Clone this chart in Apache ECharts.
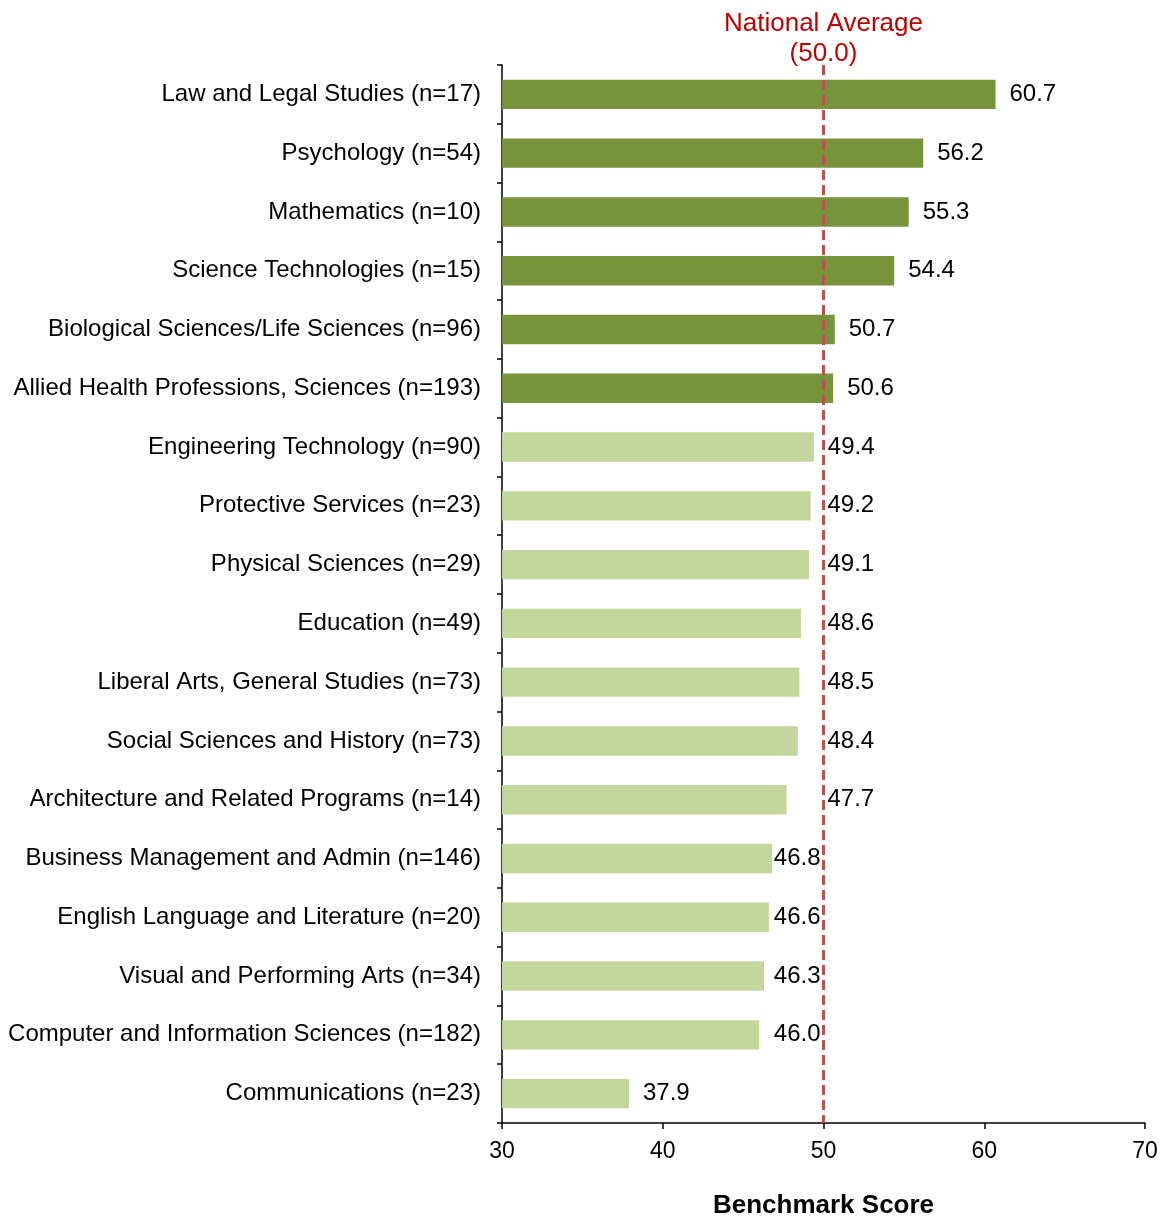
<!DOCTYPE html>
<html>
<head>
<meta charset="utf-8">
<script src="https://cdn.jsdelivr.net/npm/echarts@6/dist/echarts.min.js"></script>
<style>
  html, body { margin: 0; padding: 0; background: #fff; }
  #chart { width: 1166px; height: 1217px; }
</style>
</head>
<body>
<div id="chart"></div>
<script>
// categories, top to bottom
const categories = [
  'Law and Legal Studies (n=17)',
  'Psychology (n=54)',
  'Mathematics (n=10)',
  'Science Technologies (n=15)',
  'Biological Sciences/Life Sciences (n=96)',
  'Allied Health Professions, Sciences (n=193)',
  'Engineering Technology (n=90)',
  'Protective Services (n=23)',
  'Physical Sciences (n=29)',
  'Education (n=49)',
  'Liberal Arts, General Studies (n=73)',
  'Social Sciences and History (n=73)',
  'Architecture and Related Programs (n=14)',
  'Business Management and Admin (n=146)',
  'English Language and Literature (n=20)',
  'Visual and Performing Arts (n=34)',
  'Computer and Information Sciences (n=182)',
  'Communications (n=23)'
];
const scores = [60.7, 56.2, 55.3, 54.4, 50.7, 50.6, 49.4, 49.2, 49.1, 48.6, 48.5, 48.4, 47.7, 46.8, 46.6, 46.3, 46.0, 37.9];
const nationalAverage = 50.0;
const xTicks = [30, 40, 50, 60, 70];

const chart = echarts.init(document.getElementById('chart'));

const font = 'Arial, "Liberation Sans", sans-serif';
const labelFont = 24;
const labelGap = 14;

function buildOption(barData) {
  return {
    animation: false,
    textStyle: { fontFamily: font },
    grid: { left: 502, right: 21, top: 65, bottom: 94, outerBoundsMode: 'none', containLabel: false },
    xAxis: {
      type: 'value',
      min: xTicks[0],
      max: xTicks[xTicks.length - 1],
      interval: 10,
      name: 'Benchmark Score',
      nameLocation: 'middle',
      nameGap: 70,
      nameTextStyle: { fontSize: 26, fontWeight: 'bold', color: '#000', fontFamily: font },
      axisLine: { show: true, lineStyle: { color: '#000', width: 1.5 } },
      axisTick: { show: true, length: 6, lineStyle: { color: '#000', width: 1.5 } },
      axisLabel: { fontSize: 23, color: '#000', margin: 17, fontFamily: font },
      splitLine: { show: false }
    },
    yAxis: {
      type: 'category',
      data: categories,
      inverse: true,
      axisLine: { show: true, lineStyle: { color: '#000', width: 1.5 } },
      axisTick: { show: true, length: 5, alignWithLabel: false, lineStyle: { color: '#000', width: 1.5 } },
      axisLabel: { fontSize: labelFont, color: '#000', margin: 21, fontFamily: font }
    },
    series: [{
      type: 'bar',
      data: barData,
      barWidth: '50%',
      itemStyle: {
        color: (p) => p.value > nationalAverage ? '#77933C' : '#C3D69B'
      },
      label: {
        show: true,
        position: 'right',
        distance: labelGap,
        fontSize: labelFont,
        color: '#000',
        fontFamily: font,
        formatter: (p) => p.value.toFixed(1)
      },
      markLine: {
        silent: true,
        symbol: 'none',
        data: [{ xAxis: nationalAverage }],
        lineStyle: { color: '#C0504D', type: [10, 5], width: 3 },
        label: {
          show: true,
          position: 'start',
          distance: -4,
          color: '#C00000',
          fontSize: 26,
          lineHeight: 30,
          fontFamily: font,
          formatter: 'National Average\n(' + nationalAverage.toFixed(1) + ')'
        }
      }
    }]
  };
}

chart.setOption(buildOption(scores));

// nudge value labels that would sit on the average line (as in the original)
const lineX = chart.convertToPixel({ xAxisIndex: 0 }, nationalAverage);
const ctx = document.createElement('canvas').getContext('2d');
ctx.font = labelFont + 'px ' + font;
const adjusted = scores.map((v) => {
  const end = chart.convertToPixel({ xAxisIndex: 0 }, v);
  const w = ctx.measureText(v.toFixed(1)).width;
  const start = end + labelGap;
  if (start < lineX + 4 && start + w > lineX - 4) {
    const dx = v >= 47.5 ? (lineX + 4 - start) : (lineX - 3 - w - start);
    return { value: v, label: { offset: [dx, 0] } };
  }
  return v;
});
chart.setOption(buildOption(adjusted));
</script>
</body>
</html>
